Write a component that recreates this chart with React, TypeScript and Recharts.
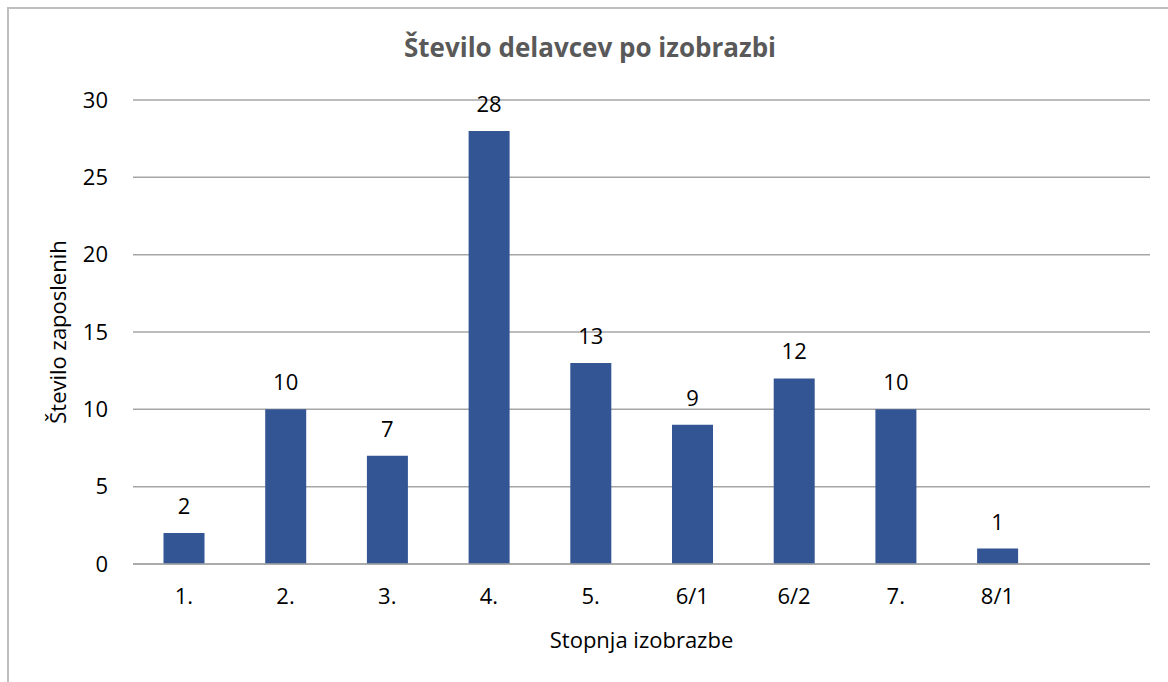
import React from 'react';
import { BarChart, Bar, XAxis, YAxis, CartesianGrid, LabelList } from 'recharts';

const stopnje = ['1.', '2.', '3.', '4.', '5.', '6/1', '6/2', '7.', '8/1', ''];
const delavci: (number | null)[] = [2, 10, 7, 28, 13, 9, 12, 10, 1, null];
const yTicks = [0, 5, 10, 15, 20, 25, 30];

const rows = stopnje.map((s, i) => ({ stopnja: s, stevilo: delavci[i] }));

const FONT = '"Open Sans", sans-serif';
const TXT = { fontSize: 22, fill: '#000', fontFamily: FONT };

export default function App() {
  return (
    <div
      style={{
        position: 'absolute',
        left: 0,
        top: 0,
        width: 1168,
        height: 682,
        overflow: 'hidden',
        background: '#fff',
        fontFamily: FONT,
      }}
    >
      <div
        style={{
          position: 'absolute',
          left: 7,
          top: 7,
          width: 1300,
          height: 800,
          border: '2px solid #bfbfbf',
        }}
      />
      <div
        style={{
          position: 'absolute',
          left: 0,
          top: 29,
          width: 1180,
          textAlign: 'center',
          fontSize: 26,
          fontWeight: 700,
          color: '#595959',
        }}
      >
        Število delavcev po izobrazbi
      </div>
      <div style={{ position: 'absolute', left: 0, top: 0 }}>
        <BarChart
          width={1168}
          height={682}
          data={rows}
          margin={{ top: 100, right: 18, bottom: 28, left: 0 }}
          barCategoryGap="30%"
        >
          <CartesianGrid vertical={false} stroke="#a6a6a6" strokeWidth={1.5} />
          <XAxis
            dataKey="stopnja"
            height={90}
            tickLine={false}
            axisLine={{ stroke: '#a6a6a6', strokeWidth: 1.5 }}
            tickMargin={18}
            tick={TXT}
            label={{
              value: 'Stopnja izobrazbe',
              position: 'insideBottom',
              offset: 6,
              style: TXT,
            }}
          />
          <YAxis
            width={133}
            domain={[0, 30]}
            ticks={yTicks}
            tickLine={false}
            axisLine={false}
            tickMargin={19}
            tick={TXT}
            label={{
              value: 'Število zaposlenih',
              angle: -90,
              position: 'insideLeft',
              offset: 58,
              style: { ...TXT, textAnchor: 'middle' },
            }}
          />
          <Bar dataKey="stevilo" fill="#345594" isAnimationActive={false}>
            <LabelList dataKey="stevilo" position="top" offset={19} style={TXT} />
          </Bar>
        </BarChart>
      </div>
    </div>
  );
}
